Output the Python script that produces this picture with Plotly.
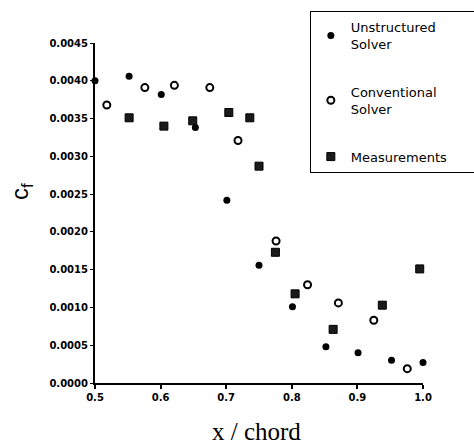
import plotly.graph_objects as go

# Unstructured solver (filled dots)
uns_x = [0.500, 0.552, 0.601, 0.653, 0.701, 0.750, 0.801, 0.852, 0.901, 0.952, 1.000]
uns_y = [0.00400, 0.00406, 0.00382, 0.00338, 0.00242, 0.00156, 0.00101, 0.00048, 0.00040, 0.00030, 0.00027]

# Conventional solver (open circles)
con_x = [0.518, 0.576, 0.621, 0.675, 0.718, 0.776, 0.824, 0.871, 0.925, 0.976]
con_y = [0.00368, 0.00391, 0.00394, 0.00391, 0.00321, 0.00188, 0.00130, 0.00106, 0.00083, 0.00019]

# Measurements (squares)
mea_x = [0.552, 0.605, 0.649, 0.704, 0.736, 0.750, 0.775, 0.805, 0.863, 0.938, 0.995]
mea_y = [0.00351, 0.00340, 0.00347, 0.00358, 0.00351, 0.00287, 0.00173, 0.00118, 0.00071, 0.00103, 0.00151]

x_ticks = [0.5, 0.6, 0.7, 0.8, 0.9, 1.0]
y_ticks = [0.0, 0.0005, 0.0010, 0.0015, 0.0020, 0.0025, 0.0030, 0.0035, 0.0040, 0.0045]

pad = "\u00a0" * 6

fig = go.Figure()
fig.add_trace(go.Scatter(
    x=uns_x, y=uns_y, mode="markers", name="Unstructured<br>Solver",
    legendgroup="a", cliponaxis=False,
    marker=dict(symbol="circle", size=7, color="black"),
))
fig.add_trace(go.Scatter(
    x=con_x, y=con_y, mode="markers", name="Conventional<br>Solver",
    legendgroup="b", cliponaxis=False,
    marker=dict(symbol="circle-open", size=7, color="black", line=dict(width=2, color="black")),
))
fig.add_trace(go.Scatter(
    x=mea_x, y=mea_y, mode="markers", name="Measurements" + pad,
    legendgroup="c", cliponaxis=False,
    marker=dict(symbol="square", size=8, color="#1a1a1a", line=dict(width=1, color="black")),
))

tickfont = dict(family="DejaVu Sans", size=10, color="black", weight="bold")

fig.update_layout(
    width=474, height=446,
    margin=dict(l=95, r=51, t=43, b=63, autoexpand=False),
    paper_bgcolor="white", plot_bgcolor="white",
    showlegend=True,
    legend=dict(
        x=0.655, y=1.094, xanchor="left", yanchor="top",
        bordercolor="black", borderwidth=1, bgcolor="white",
        font=dict(family="DejaVu Sans", size=13, color="black"),
        tracegroupgap=28, itemsizing="trace",
    ),
    xaxis=dict(
        range=[0.5, 1.0], tickvals=x_ticks, tickformat=".1f",
        showgrid=False, zeroline=False, showline=True, linecolor="black", linewidth=2,
        ticks="outside", ticklen=4, tickwidth=2, tickcolor="black",
        tickfont=tickfont,
    ),
    yaxis=dict(
        range=[0, 0.0045], tickvals=y_ticks, tickformat=".4f",
        showgrid=False, zeroline=False, showline=True, linecolor="black", linewidth=2,
        ticks="outside", ticklen=3, tickwidth=1, tickcolor="black",
        tickfont=tickfont,
    ),
    annotations=[
        dict(text="x / chord", xref="paper", yref="paper", x=0.491, y=-0.144,
             xanchor="center", yanchor="middle", showarrow=False,
             font=dict(family="Liberation Serif", size=25, color="black")),
        dict(text="c<sub>f</sub>", xref="paper", yref="paper", x=-0.222, y=0.562,
             xanchor="center", yanchor="middle", showarrow=False, textangle=-90,
             font=dict(family="Liberation Sans", size=24, color="black")),
    ],
)

fig.write_html("out.html")
